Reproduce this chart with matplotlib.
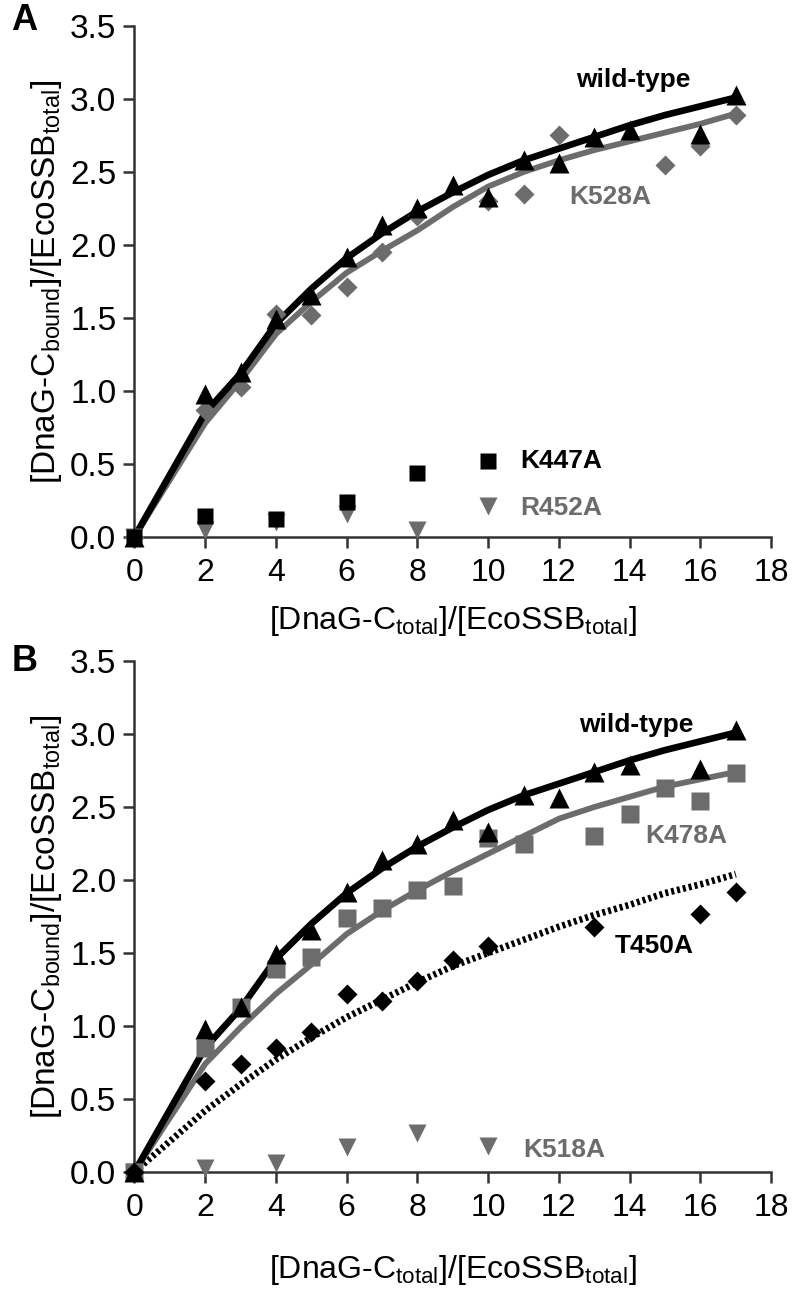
import matplotlib
matplotlib.use("Agg")
import matplotlib.pyplot as plt

# ---------------- data ----------------
x_fit = [0, 2, 3, 4, 5, 6, 7, 8, 9, 10, 11, 12, 13, 14, 15, 16, 17]

# wild-type (same in both panels)
wt_x = [0, 2, 3, 4, 5, 6, 7, 8, 9, 10, 11, 12, 13, 14, 16, 17]
wt_y = [0, 0.98, 1.13, 1.49, 1.66, 1.92, 2.14, 2.25, 2.41, 2.33, 2.58, 2.56, 2.74, 2.79, 2.76, 3.03]
wt_fit = [0, 0.85, 1.12, 1.46, 1.70, 1.91, 2.08, 2.23, 2.36, 2.48, 2.58, 2.66, 2.74, 2.82, 2.89, 2.95, 3.01]

# Panel A
k528_x = [0, 2, 3, 4, 5, 6, 7, 8, 10, 11, 12, 15, 16, 17]
k528_y = [0, 0.87, 1.03, 1.53, 1.52, 1.71, 1.95, 2.20, 2.30, 2.35, 2.75, 2.55, 2.68, 2.89]
k528_fit = [0, 0.78, 1.07, 1.39, 1.61, 1.81, 1.96, 2.10, 2.26, 2.40, 2.50, 2.58, 2.65, 2.71, 2.77, 2.83, 2.90]

k447_x = [0, 2, 4, 6, 8]
k447_y = [0, 0.14, 0.12, 0.24, 0.44]
r452_x = [0, 2, 4, 6, 8]
r452_y = [0, 0.05, 0.10, 0.16, 0.05]

# Panel B
k478_x = [0, 2, 3, 4, 5, 6, 7, 8, 9, 10, 11, 13, 14, 15, 16, 17]
k478_y = [0, 0.85, 1.13, 1.39, 1.47, 1.74, 1.81, 1.93, 1.96, 2.29, 2.25, 2.30, 2.45, 2.63, 2.54, 2.73]
k478_fit = [0, 0.74, 0.99, 1.22, 1.42, 1.63, 1.79, 1.93, 2.06, 2.18, 2.30, 2.42, 2.50, 2.57, 2.64, 2.69, 2.74]

t450_x = [0, 2, 3, 4, 5, 6, 7, 8, 9, 10, 13, 16, 17]
t450_y = [0, 0.62, 0.74, 0.85, 0.96, 1.22, 1.17, 1.31, 1.45, 1.55, 1.68, 1.77, 1.92]
t450_fit = [0, 0.42, 0.60, 0.77, 0.92, 1.06, 1.18, 1.30, 1.41, 1.50, 1.59, 1.68, 1.76, 1.83, 1.91, 1.97, 2.04]

k518_x = [0, 2, 4, 6, 8, 10]
k518_y = [0, 0.03, 0.06, 0.17, 0.27, 0.18]

x_ticks = [0, 2, 4, 6, 8, 10, 12, 14, 16, 18]
y_ticks = [0.0, 0.5, 1.0, 1.5, 2.0, 2.5, 3.0, 3.5]

# ---------------- style ----------------
BLACK = "#000000"
GRAY = "#6c6c6c"
SPINE = "#333333"
REG = ["Liberation Sans", "DejaVu Sans"]
NARROW = ["Liberation Sans Narrow", "Liberation Sans", "DejaVu Sans"]

plt.rcParams["font.family"] = REG

fig = plt.figure(figsize=(8, 13), dpi=100)
axA = fig.add_axes([0.168, 0.587, 0.796, 0.393])
axB = fig.add_axes([0.168, 0.0985, 0.796, 0.393])

ylab = "[DnaG-C$_{\\mathregular{bound}}$]/[EcoSSB$_{\\mathregular{total}}$]"
xlab = "[DnaG-C$_{\\mathregular{total}}$]/[EcoSSB$_{\\mathregular{total}}$]"


def style_axes(ax, xpad):
    ax.set_xlim(0, 18)
    ax.set_ylim(0, 3.5)
    for s in ("top", "right"):
        ax.spines[s].set_visible(False)
    for s in ("left", "bottom"):
        ax.spines[s].set_color(SPINE)
        ax.spines[s].set_linewidth(1.8)
        ax.spines[s].set_zorder(1)
    ax.set_xticks(x_ticks)
    ax.set_yticks(y_ticks)
    ax.set_yticklabels([f"{v:.1f}" for v in y_ticks], fontsize=24, family=REG)
    ax.set_xticklabels([str(v) for v in x_ticks], fontsize=23, family=NARROW)
    ax.tick_params(axis="both", direction="out", length=8, width=1.8, color=SPINE)
    ax.tick_params(axis="x", pad=7)
    ax.tick_params(axis="y", pad=5)
    ax.set_ylabel(ylab, fontsize=24, family=NARROW, labelpad=4)
    ax.set_xlabel(xlab, fontsize=23, family=NARROW, labelpad=xpad)


# ---------------- panel A ----------------
axA.plot(x_fit, k528_fit, color=GRAY, lw=4.2, zorder=2, solid_capstyle="butt")
axA.plot(x_fit, wt_fit, color=BLACK, lw=4.8, zorder=3, solid_capstyle="butt")
axA.plot(k528_x, k528_y, ls="none", marker="D", ms=10.5, color=GRAY, mec="none", zorder=4, clip_on=False)
axA.plot(r452_x, r452_y, ls="none", marker="v", ms=13, color=GRAY, mec="none", zorder=4, clip_on=False)
axA.plot(k447_x, k447_y, ls="none", marker="s", ms=11.5, color=BLACK, mec="none", zorder=5, clip_on=False)
axA.plot(wt_x, wt_y, ls="none", marker="^", ms=14, color=BLACK, mec="none", zorder=6, clip_on=False)

# legend-like markers and labels
axA.plot([10], [0.52], ls="none", marker="s", ms=11.5, color=BLACK, mec="none")
axA.plot([10], [0.21], ls="none", marker="v", ms=13, color=GRAY, mec="none")
axA.text(10.9, 0.52, "K447A", fontsize=19, fontweight="bold", color=BLACK, va="center", ha="left")
axA.text(10.9, 0.20, "R452A", fontsize=19, fontweight="bold", color=GRAY, va="center", ha="left")
axA.text(14.1, 3.13, "wild-type", fontsize=19, fontweight="bold", color=BLACK, va="center", ha="center")
axA.text(13.45, 2.33, "K528A", fontsize=19, fontweight="bold", color=GRAY, va="center", ha="center")

style_axes(axA, 12)

# ---------------- panel B ----------------
axB.plot(x_fit, t450_fit, color=BLACK, lw=4.8, ls=(0, (0.45, 0.45)), zorder=2, dash_capstyle="butt")
axB.plot(x_fit, k478_fit, color=GRAY, lw=4.2, zorder=2, solid_capstyle="butt")
axB.plot(x_fit, wt_fit, color=BLACK, lw=4.8, zorder=3, solid_capstyle="butt")
axB.plot(k518_x, k518_y, ls="none", marker="v", ms=13, color=GRAY, mec="none", zorder=4, clip_on=False)
axB.plot(k478_x, k478_y, ls="none", marker="s", ms=12.5, color=GRAY, mec="none", zorder=4, clip_on=False)
axB.plot(t450_x, t450_y, ls="none", marker="D", ms=10.5, color=BLACK, mec="none", zorder=5, clip_on=False)
axB.plot(wt_x, wt_y, ls="none", marker="^", ms=14, color=BLACK, mec="none", zorder=6, clip_on=False)

axB.text(14.2, 3.06, "wild-type", fontsize=19, fontweight="bold", color=BLACK, va="center", ha="center")
axB.text(15.6, 2.30, "K478A", fontsize=19, fontweight="bold", color=GRAY, va="center", ha="center")
axB.text(14.7, 1.55, "T450A", fontsize=19, fontweight="bold", color=BLACK, va="center", ha="center")
axB.text(11.0, 0.15, "K518A", fontsize=19, fontweight="bold", color=GRAY, va="center", ha="left")

style_axes(axB, 22)

# panel letters
fig.text(0.014, 0.984, "A", fontsize=26, fontweight="bold", va="center", ha="left")
fig.text(0.014, 0.491, "B", fontsize=26, fontweight="bold", va="center", ha="left")

fig.savefig("out.png", dpi=100, facecolor="white")
